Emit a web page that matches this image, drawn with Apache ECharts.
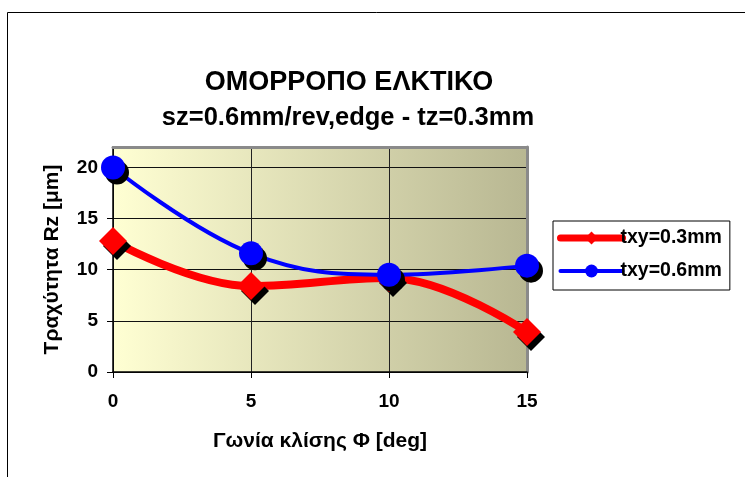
<!DOCTYPE html>
<html>
<head>
<meta charset="utf-8">
<script src="https://cdn.jsdelivr.net/npm/echarts@6/dist/echarts.min.js"></script>
<style>
  html, body { margin: 0; padding: 0; background: #fff; }
  #chart { width: 745px; height: 477px; }
</style>
</head>
<body>
<div id="chart"></div>
<script>
// Tilt angle Φ [deg] against surface roughness Rz [μm]
const angles = [0, 5, 10, 15];
const rzTxy03 = [12.8, 8.4, 9.2, 3.9];
const rzTxy06 = [20.0, 11.6, 9.5, 10.4];
const seriesNames = ['txy=0.3mm', 'txy=0.6mm'];
const xTicks = [0, 5, 10, 15];
const yTicks = [0, 5, 10, 15, 20];

const FONT = '"Liberation Sans", Arial, sans-serif';
const pairs = (ys) => angles.map((a, i) => [a, ys[i]]);

const chart = echarts.init(document.getElementById('chart'), null, { renderer: 'canvas' });

const markerShadow = {
  shadowColor: '#000',
  shadowBlur: 0,
  shadowOffsetX: 4,
  shadowOffsetY: 5
};
const noShadow = { shadowColor: 'rgba(0,0,0,0)', shadowOffsetX: 0, shadowOffsetY: 0, shadowBlur: 0 };

chart.setOption({
  backgroundColor: '#fff',
  animation: false,
  textStyle: { fontFamily: FONT },
  title: [
    {
      text: 'ΟΜΟΡΡΟΠΟ ΕΛΚΤΙΚΟ',
      left: 349, top: 69, textAlign: 'center', padding: 0,
      textStyle: { fontFamily: FONT, fontSize: 27, fontWeight: 'bold', color: '#000', lineHeight: 27 }
    },
    {
      text: 'sz=0.6mm/rev,edge - tz=0.3mm',
      left: 348, top: 105, textAlign: 'center', padding: 0,
      textStyle: { fontFamily: FONT, fontSize: 25.5, fontWeight: 'bold', color: '#000', lineHeight: 25 }
    }
  ],
  graphic: [{
    type: 'rect',
    shape: { x: 7.5, y: 12.5, width: 800, height: 520 },
    style: { fill: 'none', stroke: '#000', lineWidth: 1 },
    silent: true,
    z: -10
  }],
  legend: {
    orient: 'vertical',
    left: 553, top: 221,
    padding: [7, 8, 9, 4],
    itemWidth: 62, itemHeight: 16, itemGap: 13,
    borderColor: '#000', borderWidth: 1,
    backgroundColor: '#fff',
    data: [
      { name: seriesNames[0], itemStyle: noShadow, lineStyle: { width: 7, cap: 'round' } },
      { name: seriesNames[1], itemStyle: noShadow, lineStyle: { width: 4, cap: 'round' } }
    ],
    itemStyle: noShadow,
    textStyle: { fontFamily: FONT, fontSize: 19.5, fontWeight: 'bold', color: '#000', padding: [0, 0, 0, -7] }
  },
  grid: {
    left: 113, top: 147, right: 218, bottom: 105,
    show: true,
    borderWidth: 0,
    backgroundColor: new echarts.graphic.LinearGradient(0, 0, 1, 0, [
      { offset: 0, color: '#FFFFD3' },
      { offset: 1, color: '#B8B792' }
    ])
  },
  xAxis: [
    {
      type: 'value', min: 0, max: 15, interval: 5,
      name: 'Γωνία κλίσης Φ [deg]', nameLocation: 'middle', nameGap: 59,
      nameTextStyle: { fontFamily: FONT, fontSize: 21, fontWeight: 'bold', color: '#000' },
      axisLine: { show: true, lineStyle: { color: '#000', width: 1.5 } },
      axisTick: { show: true, length: 6, lineStyle: { color: '#000' } },
      axisLabel: {
        margin: 20, customValues: xTicks,
        fontFamily: FONT, fontSize: 19, fontWeight: 'bold', color: '#000'
      },
      splitLine: { show: true, lineStyle: { color: '#222', width: 1 } }
    },
    {
      type: 'value', min: 0, max: 15, position: 'top',
      axisLine: { show: true, onZero: false, lineStyle: { color: '#8a8a8a', width: 3 } },
      axisTick: { show: false }, axisLabel: { show: false }, splitLine: { show: false }
    }
  ],
  yAxis: [
    {
      type: 'value', min: 0, max: 22, interval: 5,
      name: 'Τραχύτητα Rz [μm]', nameLocation: 'middle', nameGap: 50,
      nameTextStyle: { fontFamily: FONT, fontSize: 21, fontWeight: 'bold', color: '#000' },
      axisLine: { show: true, lineStyle: { color: '#000', width: 1.5 } },
      axisTick: { show: true, length: 6, customValues: yTicks, lineStyle: { color: '#000' } },
      axisLabel: {
        margin: 15, customValues: yTicks,
        fontFamily: FONT, fontSize: 19, fontWeight: 'bold', color: '#000'
      },
      splitLine: { show: true, lineStyle: { color: '#111', width: 1 } }
    },
    {
      type: 'value', min: 0, max: 22, position: 'right',
      axisLine: { show: true, onZero: false, lineStyle: { color: '#8a8a8a', width: 3 } },
      axisTick: { show: false }, axisLabel: { show: false }, splitLine: { show: false }
    }
  ],
  series: [
    {
      name: seriesNames[0],
      type: 'line',
      data: pairs(rzTxy03),
      smooth: 0.4,
      clip: false,
      symbol: 'diamond',
      symbolSize: 28,
      lineStyle: { color: '#FF0000', width: 8 },
      itemStyle: Object.assign({ color: '#FF0000' }, markerShadow),
      z: 3
    },
    {
      name: seriesNames[1],
      type: 'line',
      data: pairs(rzTxy06),
      smooth: 0.4,
      clip: false,
      symbol: 'circle',
      symbolSize: 24,
      lineStyle: { color: '#0000FF', width: 4 },
      itemStyle: Object.assign({ color: '#0000FF' }, markerShadow),
      z: 4
    }
  ]
});
</script>
</body>
</html>
